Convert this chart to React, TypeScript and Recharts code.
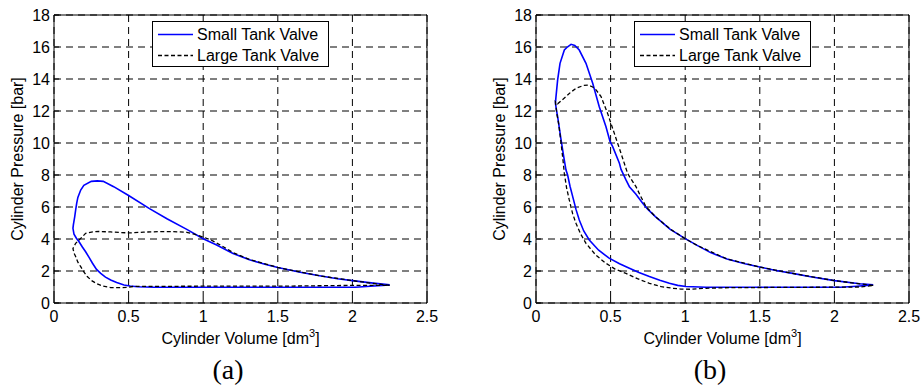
import React from 'react';
import { LineChart, Line, XAxis, YAxis, CartesianGrid, Legend } from 'recharts';

type Pt = [number, number];

// axis ticks
const X_TICKS = [0, 0.5, 1, 1.5, 2, 2.5];
const Y_TICKS = [0, 2, 4, 6, 8, 10, 12, 14, 16, 18];
const NAMES = ['Small Tank Valve', 'Large Tank Valve'];

// (a) cylinder volume [dm3], pressure [bar]
const SMALL_A: Pt[] = [
  [2.25, 1.13], [2.14, 1.24], [2.0, 1.4], [1.9, 1.52], [1.78, 1.7], [1.65, 1.92],
  [1.5, 2.22], [1.42, 2.4], [1.31, 2.7], [1.2, 3.1], [1.09, 3.62], [1.0, 4.02],
  [0.89, 4.6], [0.76, 5.25], [0.64, 5.9], [0.5, 6.72], [0.4, 7.27], [0.33, 7.6],
  [0.29, 7.63], [0.25, 7.6], [0.2, 7.35], [0.179, 7.06], [0.16, 6.6], [0.152, 6.23],
  [0.145, 5.8], [0.139, 5.4], [0.13, 4.9], [0.127, 4.67], [0.134, 4.3], [0.15, 4.05],
  [0.168, 3.83], [0.19, 3.5], [0.212, 3.2], [0.235, 2.85], [0.257, 2.5], [0.285, 2.1],
  [0.313, 1.85], [0.345, 1.62], [0.38, 1.44], [0.42, 1.28], [0.469, 1.13], [0.51, 1.06],
  [0.56, 1.02], [0.67, 0.98], [1.0, 0.98], [1.5, 0.98], [2.02, 0.98], [2.12, 1.05],
  [2.25, 1.13],
];

const LARGE_A: Pt[] = [
  [2.25, 1.1], [2.14, 1.22], [2.0, 1.4], [1.78, 1.7], [1.5, 2.22], [1.31, 2.72],
  [1.2, 3.15], [1.12, 3.6], [1.05, 3.95], [0.99, 4.15], [0.94, 4.3], [0.89, 4.42],
  [0.8, 4.46], [0.7, 4.46], [0.6, 4.43], [0.51, 4.38], [0.45, 4.4], [0.38, 4.44],
  [0.3, 4.47], [0.26, 4.45], [0.212, 4.35], [0.179, 4.04], [0.145, 3.73], [0.127, 3.4],
  [0.135, 3.1], [0.145, 2.9], [0.16, 2.55], [0.179, 2.27], [0.2, 1.95], [0.223, 1.65],
  [0.255, 1.38], [0.29, 1.19], [0.33, 1.05], [0.38, 0.96], [0.45, 0.96], [0.49, 0.98],
  [0.536, 1.04], [0.67, 1.04], [1.0, 1.05], [1.6, 1.06], [2.0, 1.1], [2.25, 1.1],
];

// (b)
const SMALL_B: Pt[] = [
  [2.26, 1.13], [2.17, 1.2], [2.0, 1.4], [1.85, 1.62], [1.72, 1.85], [1.6, 2.05],
  [1.5, 2.25], [1.4, 2.45], [1.28, 2.75], [1.17, 3.15], [1.08, 3.6], [1.0, 4.02],
  [0.9, 4.6], [0.8, 5.4], [0.75, 5.85], [0.715, 6.23], [0.67, 6.8], [0.626, 7.27],
  [0.603, 7.69], [0.57, 8.35], [0.559, 8.73], [0.514, 9.77], [0.496, 10.1], [0.469, 11.02],
  [0.424, 12.27], [0.38, 13.73], [0.335, 14.98], [0.29, 15.81], [0.26, 16.1], [0.235, 16.17],
  [0.21, 16.0], [0.19, 15.81], [0.161, 14.98], [0.145, 13.94], [0.134, 12.9], [0.13, 12.48],
  [0.14, 11.9], [0.145, 11.65], [0.168, 10.2], [0.185, 9.2], [0.201, 8.31], [0.212, 8.0],
  [0.228, 7.3], [0.246, 6.65], [0.268, 5.85], [0.29, 5.19], [0.32, 4.5], [0.357, 3.94],
  [0.42, 3.3], [0.49, 2.8], [0.56, 2.45], [0.626, 2.17], [0.69, 1.9], [0.76, 1.65],
  [0.83, 1.42], [0.894, 1.23], [0.95, 1.1], [1.005, 1.03], [1.14, 0.98], [1.6, 0.98],
  [2.04, 0.98], [2.15, 1.05], [2.26, 1.13],
];

const LARGE_B: Pt[] = [
  [2.26, 1.1], [2.17, 1.2], [2.0, 1.4], [1.72, 1.85], [1.5, 2.25], [1.28, 2.75],
  [1.08, 3.6], [1.0, 4.02], [0.9, 4.62], [0.8, 5.4], [0.737, 6.02], [0.7, 6.7],
  [0.67, 7.27], [0.637, 7.75], [0.614, 8.1], [0.57, 9.35], [0.525, 10.6], [0.48, 11.85],
  [0.436, 12.9], [0.4, 13.35], [0.38, 13.5], [0.35, 13.62], [0.32, 13.6], [0.268, 13.42],
  [0.23, 13.15], [0.201, 12.9], [0.17, 12.65], [0.145, 12.45], [0.13, 12.58], [0.14, 11.8],
  [0.152, 11.2], [0.168, 10.0], [0.18, 9.0], [0.19, 8.1], [0.205, 7.2], [0.223, 6.44],
  [0.245, 5.6], [0.268, 4.98], [0.3, 4.3], [0.335, 3.73], [0.4, 3.0], [0.469, 2.48],
  [0.53, 2.12], [0.603, 1.85], [0.68, 1.52], [0.76, 1.23], [0.84, 1.02], [0.916, 0.92],
  [0.97, 0.87], [1.03, 0.86], [1.14, 0.92], [1.3, 0.96], [1.8, 0.98], [2.17, 1.0],
  [2.26, 1.1],
];

const toRows = (pts: Pt[]) => pts.map(([v, p]) => ({ v, p }));

const FONT = '"Liberation Sans", Arial, Helvetica, sans-serif';
const BLUE = '#0000ff';
const DASH = '4 2.5';

const tickStyle = { fontSize: 16, fontFamily: FONT, fill: '#000' };

const LegendBox = () => (
  <div
    style={{
      width: 177,
      height: 46,
      boxSizing: 'border-box',
      border: '1px solid #000',
      background: '#fff',
      paddingTop: 2,
      fontFamily: FONT,
      fontSize: 16,
      color: '#000',
    }}
  >
    {NAMES.map((name, i) => (
      <div key={name} style={{ display: 'flex', alignItems: 'center', height: 21 }}>
        <svg width={35} height={21} style={{ marginLeft: 5 }}>
          <line
            x1={0}
            x2={35}
            y1={10.5}
            y2={10.5}
            stroke={i === 0 ? BLUE : '#000'}
            strokeWidth={i === 0 ? 1.6 : 1.3}
            strokeDasharray={i === 0 ? undefined : DASH}
          />
        </svg>
        <span style={{ marginLeft: 4, whiteSpace: 'nowrap' }}>{name}</span>
      </div>
    ))}
  </div>
);

const yLabel = ({ viewBox }: any) => {
  const cx = viewBox.x + 17.5;
  const cy = viewBox.y + viewBox.height / 2;
  return (
    <text
      x={cx}
      y={cy}
      transform={`rotate(-90 ${cx} ${cy})`}
      textAnchor="middle"
      dominantBaseline="central"
      fontSize={16}
      fontFamily={FONT}
      fill="#000"
    >
      Cylinder Pressure [bar]
    </text>
  );
};

const xLabel = ({ viewBox }: any) => (
  <text
    x={viewBox.x + viewBox.width / 2}
    y={viewBox.y + 41}
    textAnchor="middle"
    fontSize={16}
    fontFamily={FONT}
    fill="#000"
  >
    <tspan>Cylinder Volume [dm</tspan>
    <tspan dy={-7} fontSize={11}>3</tspan>
    <tspan dy={7}>]</tspan>
  </text>
);

const Panel = ({ small, large, caption }: { small: Pt[]; large: Pt[]; caption: string }) => (
  <div style={{ position: 'relative', width: 439, height: 387 }}>
    <LineChart width={439} height={387} margin={{ top: 15, right: 12, bottom: 0, left: 0 }}>
      <CartesianGrid stroke="#000" strokeDasharray="7 5" />
      <XAxis
        xAxisId={0}
        dataKey="v"
        type="number"
        domain={[0, 2.5]}
        ticks={X_TICKS}
        height={84}
        stroke="#000"
        tickSize={-5}
        tickMargin={13}
        tick={tickStyle}
        label={xLabel}
      />
      <XAxis
        xAxisId="top"
        orientation="top"
        type="number"
        domain={[0, 2.5]}
        ticks={X_TICKS}
        mirror
        tick={false}
        tickSize={5}
        height={2}
        stroke="#000"
      />
      <YAxis
        yAxisId={0}
        type="number"
        domain={[0, 18]}
        ticks={Y_TICKS}
        width={54}
        stroke="#000"
        tickSize={-5}
        tickMargin={9}
        tick={tickStyle}
        label={yLabel}
      />
      <YAxis
        yAxisId="right"
        orientation="right"
        type="number"
        domain={[0, 18]}
        ticks={Y_TICKS}
        mirror
        tick={false}
        tickSize={5}
        width={2}
        stroke="#000"
      />
      <Line
        data={toRows(small)}
        dataKey="p"
        name={NAMES[0]}
        type="linear"
        stroke={BLUE}
        strokeWidth={1.6}
        dot={false}
        isAnimationActive={false}
      />
      <Line
        data={toRows(large)}
        dataKey="p"
        name={NAMES[1]}
        type="linear"
        stroke="#000"
        strokeWidth={1.3}
        strokeDasharray={DASH}
        dot={false}
        isAnimationActive={false}
      />
      <Legend
        layout="horizontal"
        verticalAlign="middle"
        align="center"
        wrapperStyle={{ left: 152, top: 21, width: 177 }}
        content={() => <LegendBox />}
      />
    </LineChart>
    <div
      style={{
        position: 'absolute',
        left: 0,
        width: 456,
        top: 353,
        height: 34,
        lineHeight: '34px',
        textAlign: 'center',
        fontFamily: '"Liberation Serif", "DejaVu Serif", serif',
        fontSize: 28,
        color: '#000',
      }}
    >
      {caption}
    </div>
  </div>
);

export default function App() {
  return (
    <div
      style={{
        position: 'absolute',
        left: 0,
        top: 0,
        width: 921,
        height: 387,
        background: '#fff',
        overflow: 'hidden',
      }}
    >
      <div style={{ position: 'absolute', left: 0, top: 0 }}>
        <Panel small={SMALL_A} large={LARGE_A} caption="(a)" />
      </div>
      <div style={{ position: 'absolute', left: 482, top: 0 }}>
        <Panel small={SMALL_B} large={LARGE_B} caption="(b)" />
      </div>
    </div>
  );
}
